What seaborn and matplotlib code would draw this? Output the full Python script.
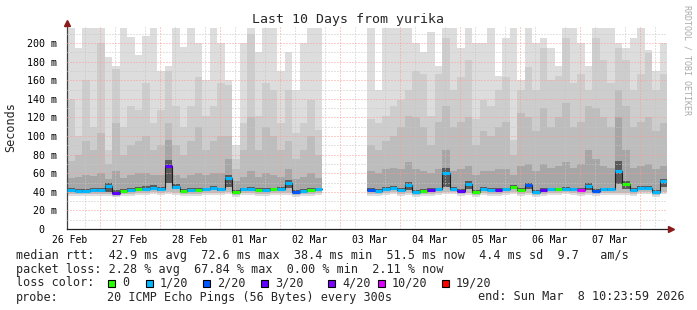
import numpy as np
import pandas as pd
import matplotlib
matplotlib.use("Agg")
import matplotlib.pyplot as plt
import seaborn as sns
from matplotlib.patches import Rectangle

# ---------------- data (3-hour bins, ms) ----------------
BIN = 0.125                     # bin width in days
GAP = 6                         # empty bins (no data) between the two runs
day_labels = ['26 Feb', '27 Feb', '28 Feb', '01 Mar', '02 Mar',
              '03 Mar', '04 Mar', '05 Mar', '06 Mar', '07 Mar']
label_offset = 0.05             # labels sit at noon
midnight_offset = 0.55

med_a = [42,41,41,42,42,46,39,41,42,43,43.5,44.5,43,68,45,41,42,42,42.5,44,42.5,55,40,42.5,43,42,42,42.5,43,50,40,41,42,42.5]
med_b = [42,41,43,44.5,42,47,40,41,42,42.5,60,43.5,41,48,40,43,42,42,42.5,45,42,47,40,42,42.5,42.5,43.5,42.5,42,46,41,42.5,42.5,62,48,42,44.5,44.5,40,52]
p20_a = [216,195,216,216,216,185,175,216,206,187,208,216,170,175,216,196,216,200,160,216,200,160,90,200,216,190,216,216,170,190,150,200,216,216]
p20_b = [216,150,216,216,216,216,200,190,212,175,216,216,195,216,200,200,216,165,205,216,160,216,200,205,195,175,216,216,200,175,216,216,216,200,195,205,216,192,170,200]
p19_a = [140,100,160,110,200,85,172,110,132,128,157,114,128,170,132,110,132,164,121,132,157,155,75,114,210,121,157,150,114,150,103,114,139,107]
p19_b = [118,114,121,132,139,150,170,167,121,167,205,150,164,182,118,139,132,150,164,96,150,174,150,195,160,165,205,157,167,150,205,182,157,195,182,150,167,189,150,167]
p18_a = [73,80,95,85,103,70,114,80,90,95,100,85,90,114,90,80,95,110,85,95,100,100,65,85,120,85,110,100,85,95,75,85,100,80]
p18_b = [90,85,95,100,110,122,120,110,90,115,132,110,115,120,90,105,100,110,115,80,125,120,105,130,110,120,135,110,115,132,130,120,110,150,132,110,115,120,105,114]
p16_a = [55,56,58,57,60,54,62,55,58,60,60,58,58,96,58,55,58,60,58,60,60,75,52,56,62,56,60,58,56,65,54,56,60,55]
p16_b = [62,60,64,66,65,72,65,62,60,64,85,62,64,68,58,62,62,64,65,58,68,70,62,70,66,68,72,66,70,85,75,68,66,120,85,66,68,70,64,68]
p13_a = [44,43.5,43.5,44,44,49,41.5,43.5,44,45,46,47,45,74,48,43.5,44,44,44.5,46,44.5,58,42,44.5,45,44,44,44.5,45,53,42,43,44,44.5]
p13_b = [44,43,45,46.5,44,51,42,43,44,44.5,66,45.5,43,52,42,45,44,44,44.5,47,44,50,42,44,44.5,44.5,45.5,44.5,44,50,43,44.5,44.5,73,52,44,46.5,46.5,42,54]
p8_a = [40.5,39.5,39.5,40.5,40.5,40,37.5,39.5,40.5,41,42,43,41,50,43,39.5,40.5,40.5,41,42.5,41,45,38.5,41,41.5,40.5,40.5,41,41.5,44,38.5,39.5,40.5,41]
p8_b = [40.5,39.5,41.5,43,40.5,42,38.5,39.5,40.5,41,45,42,39.5,43,38.5,41.5,40.5,40.5,41,43.5,40.5,43,38.5,40.5,41,41,42,41,40.5,42,39.5,41,41,48,43,40.5,43,43,38.5,45]
p3_a = [38,37.5,37.5,38,38,37.5,35.5,37.5,38,38.5,39,39.5,38.5,40,39,37.5,38,38,38.5,39,38.5,40,36.5,38.5,39,38,38,38.5,39,39,36.5,37.5,38,38.5]
p3_b = [38,37.5,39,40,38,38.5,36.5,37.5,38,38.5,39.5,39.5,37.5,38.5,36.5,39,38,38,38.5,40,38,39,36.5,38,38.5,38.5,39.5,38.5,38,39,37.5,38.5,38.5,39,39,38,40,40,36.5,40]
p1_a = [36,35.5,35.5,36,36,35.5,34,35.5,36,36.5,37,37.5,36.5,37.5,37,35.5,36,36,36.5,37,36.5,37.5,34.5,36.5,37,36,36,36.5,37,37,34.5,35.5,36,36.5]
p1_b = [36,35.5,37,38,36,36.5,34.5,35.5,36,36.5,37.5,37.5,35.5,36.5,34.5,37,36,36,36.5,38,36,37,34.5,36,36.5,36.5,37.5,36.5,36,37,35.5,36.5,36.5,37,37,36,38,38,34.5,38]
loss_a = [1,1,1,1,1,1,3,0,1,0, 1,1,1,3,1,0,1,0,1,1, 1,1,0,1,1,0,1,0,1,1, 2,1,0,1]
loss_b = [2,1,1,1,1,1,1,0,3,1, 1,1,3,1,0,1,1,3,1,0, 0,2,1,3,1,0,1,1,10,1, 2,1,1,1,0,1,1,1,1,1]

loss_levels = [0, 1, 2, 3, 4, 10, 19]
loss_labels = ['0', '1/20', '2/20', '3/20', '4/20', '10/20', '19/20']
loss_colors = ['#26ff00', '#00b8ff', '#0059ff', '#5e00ff', '#7e00ff', '#dd00ff', '#ff0000']

stats_rtt = "median rtt:  42.9 ms avg  72.6 ms max  38.4 ms min  51.5 ms now  4.4 ms sd  9.7   am/s"
stats_loss = "packet loss: 2.28 % avg  67.84 % max  0.00 % min  2.11 % now"
probe_txt = "20 ICMP Echo Pings (56 Bytes) every 300s"
end_txt = "end: Sun Mar  8 10:23:59 2026"

for a, b in [(med_a, med_b), (p20_a, p20_b), (p19_a, p19_b), (p18_a, p18_b),
             (p16_a, p16_b), (p13_a, p13_b), (p8_a, p8_b), (p3_a, p3_b),
             (p1_a, p1_b), (loss_a, loss_b)]:
    assert len(a) == 34 and len(b) == 40

def join(a, b):
    return np.array(list(a) + [np.nan] * GAP + list(b), dtype=float)

n_a = len(med_a)
start_b = n_a + GAP
df = pd.DataFrame({
    't': np.arange(n_a + GAP + len(med_b)) * BIN,
    'med': join(med_a, med_b), 'p20': join(p20_a, p20_b), 'p19': join(p19_a, p19_b),
    'p18': join(p18_a, p18_b), 'p16': join(p16_a, p16_b), 'p13': join(p13_a, p13_b),
    'p8': join(p8_a, p8_b), 'p3': join(p3_a, p3_b), 'p1': join(p1_a, p1_b),
    'loss': join(loss_a, loss_b),
})

# ---------------- figure ----------------
sns.set_theme(style="white")
plt.rcParams['font.family'] = ['DejaVu Sans Mono', 'DejaVu Sans']
W, H = 697, 310
fig = plt.figure(figsize=(W / 100, H / 100), dpi=100, facecolor='white')
L, R, T, B = 67, 667, 25, 229
ax = fig.add_axes([L / W, 1 - B / H, (R - L) / W, (B - T) / H])
ax.set_facecolor('white')

# smoke layers (outer = lightest)
layers = [('p1', 'p20', '#dddddd'), ('p3', 'p19', '#cdcdcd'), ('p3', 'p18', '#bdbdbd'),
          ('p8', 'p16', '#a6a6a6'), ('p8', 'p13', '#5a5a5a')]
d = df.dropna(subset=['med'])
for lo, hi, c in layers:
    ax.bar(d['t'], d[hi] - d[lo], bottom=d[lo], width=BIN, align='edge',
           color=c, linewidth=0, antialiased=False, zorder=1)

# median: thin dark line then loss-coloured thick segments
for seg in (df.iloc[:n_a], df.iloc[start_b:]):
    xs = list(seg['t']) + [seg['t'].iloc[-1] + BIN]
    ys = list(seg['med']) + [seg['med'].iloc[-1]]
    sns.lineplot(x=xs, y=ys, ax=ax, drawstyle='steps-post', color='#202020',
                 lw=0.8, estimator=None, sort=False, zorder=4)
cmap = dict(zip(loss_levels, loss_colors))
ax.hlines(d['med'], d['t'], d['t'] + BIN, colors=[cmap[int(v)] for v in d['loss']],
          lw=2.2, zorder=5)

# axes ranges / ticks
ax.set_xlim(0, 10)
ax.set_ylim(0, 219.4)
yt = list(range(0, 201, 20))
ax.set_yticks(yt, ['0  '] + [f'{v} m' for v in yt[1:]])
ax.set_yticks(list(range(10, 220, 20)), minor=True)
ax.set_xticks([label_offset + k for k in range(10)], day_labels)
midn = [midnight_offset + k for k in range(10)]
six = [label_offset + 0.25 * k for k in range(40)]
six = [s for s in six if min(abs(s - m) for m in midn) > 1e-6]
ax.set_xticks(six, minor=True)
ax.tick_params(which='both', length=0)
ax.tick_params(axis='y', pad=7, labelsize=7.2, colors='black')
ax.tick_params(axis='x', pad=4, labelsize=7.0, colors='black')

dots = (0, (1, 2))
ax.set_axisbelow(False)
ax.grid(which='major', axis='y', color='#ff9a9a', ls=dots, lw=0.72)
ax.grid(which='minor', axis='y', color='#c6c6c6', ls=dots, lw=0.72)
ax.grid(which='minor', axis='x', color='#c6c6c6', ls=dots, lw=0.72)
ax.grid(which='major', axis='x', visible=False)
for m in midn:
    ax.axvline(m, color='#ff9a9a', ls=dots, lw=0.72, zorder=2.5)

for s in ('top', 'right'):
    ax.spines[s].set_visible(False)
ax.spines['left'].set_color('#404040')
ax.spines['bottom'].set_color('#202020')
ax.spines['left'].set_linewidth(0.9)
ax.spines['bottom'].set_linewidth(0.9)
ax.plot([0], [1.012], marker='^', ms=5, color='#8b1a1a', transform=ax.transAxes, clip_on=False, zorder=6)
ax.plot([1.006], [0], marker='>', ms=5, color='#8b1a1a', transform=ax.transAxes, clip_on=False, zorder=6)

ax.set_ylabel('Seconds', fontsize=8.5)
ax.yaxis.set_label_coords(-0.083, 0.5)

def ftext(x, y, s, **kw):
    kw.setdefault('fontsize', 8.5)
    fig.text(x / W, 1 - y / H, s, va='center', ha=kw.pop('ha', 'left'), **kw)

ftext(348, 19, 'Last 10 Days from yurika', ha='center', fontsize=9.5)
fig.text(687 / W, 1 - 5 / H, 'RRDTOOL / TOBI OETIKER', rotation=270, fontsize=6,
         color='#aaaaaa', ha='center', va='top')

ftext(16, 255, stats_rtt)
ftext(16, 269, stats_loss)
ftext(16, 283, 'loss color:')
sq_x = [108, 146, 203, 261, 328, 378, 442]
for xq, lab, c in zip(sq_x, loss_labels, loss_colors):
    fig.add_artist(Rectangle((xq / W, 1 - 286.5 / H), 7 / W, 7 / H, transform=fig.transFigure,
                             facecolor=c, edgecolor='black', lw=0.8))
    ftext(xq + 14, 283, lab)
ftext(16, 297, 'probe:')
ftext(107, 297, probe_txt)
ftext(478, 297, end_txt)

fig.savefig('out.png', dpi=100, facecolor='white')
